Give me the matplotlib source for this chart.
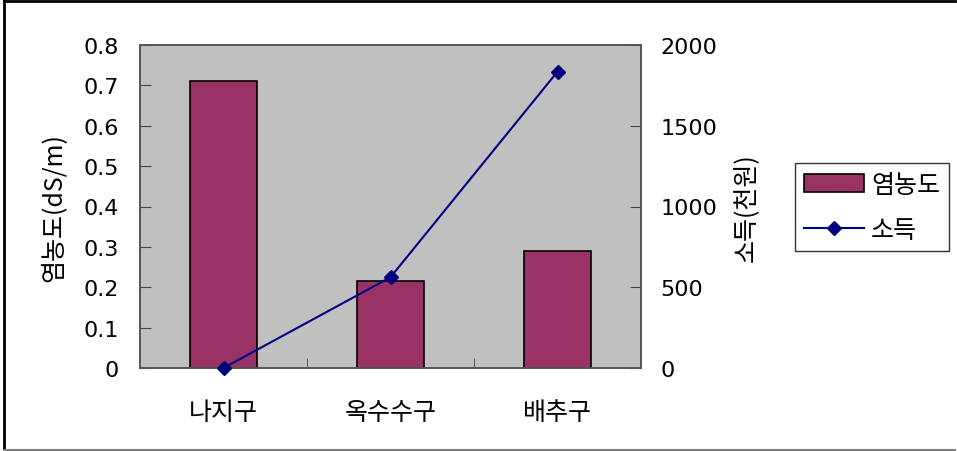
import matplotlib
matplotlib.use("Agg")
import matplotlib.pyplot as plt
from matplotlib.patches import Rectangle
from matplotlib.lines import Line2D
import numpy as np

categories = ["나지구", "옥수수구", "배추구"]
salinity = [0.71, 0.215, 0.29]
income = [0, 562, 1835]
left_ticks = [0, 0.1, 0.2, 0.3, 0.4, 0.5, 0.6, 0.7, 0.8]
right_ticks = [0, 500, 1000, 1500, 2000]

plt.rcParams['font.family'] = ['DejaVu Sans', 'Noto Sans CJK KR']
kfont = ['Noto Sans CJK KR', 'DejaVu Sans']
NFS = 16
KFS = 18

fig = plt.figure(figsize=(9.57, 4.52), dpi=100)
ax = fig.add_axes([140/957, 1-369/452, 501/957, 323/452])
ax.set_facecolor('#C0C0C0')
x = np.arange(len(categories))
ax.bar(x, salinity, width=0.4, color='#993366', edgecolor='black', linewidth=1.2, zorder=2)
ax.set_xlim(-0.5, 2.5)
ax.set_ylim(0, 0.8)
ax.set_yticks(left_ticks)
ax.set_yticklabels([f"{v:g}" for v in left_ticks], fontsize=NFS)
ax.set_xticks(x)
ax.set_xticklabels(categories, fontsize=KFS, family=kfont)
ax.tick_params(axis='x', length=0, pad=22)
ax.set_xticks([0.5, 1.5], minor=True)
ax.tick_params(axis='x', which='minor', direction='in', length=7, color='#444444')
ax.tick_params(axis='y', direction='in', length=8, color='#444444', pad=15)
for s in ax.spines.values():
    s.set_color('#555555')
    s.set_linewidth(1.2)
ax.set_ylabel("염농도(dS/m)", fontsize=KFS, family=kfont, labelpad=12)

ax2 = ax.twinx()
ax2.plot(x, income, color='#000080', marker='D', markersize=7, linewidth=1.5, zorder=3, clip_on=False)
ax2.set_ylim(0, 2000)
ax2.set_yticks(right_ticks)
ax2.set_yticklabels([str(v) for v in right_ticks], fontsize=NFS)
ax2.tick_params(axis='y', direction='in', length=8, color='#444444', pad=14)
for s in ax2.spines.values():
    s.set_color('#555555')
    s.set_linewidth(1.2)
ax2.set_ylabel("소득(천원)", fontsize=KFS, family=kfont, rotation=90, labelpad=11)

handles = [Rectangle((0, 0), 1, 1, facecolor='#993366', edgecolor='black', linewidth=1.2),
           Line2D([], [], color='#000080', marker='D', markersize=7, linewidth=1.5)]
leg = fig.legend(handles, ["염농도", "소득"], loc='upper left',
                 bbox_to_anchor=(795/957, 1-164/452), prop={'family': kfont, 'size': KFS},
                 frameon=True, fancybox=False, edgecolor='black', handlelength=2.4,
                 handletextpad=0.3, borderpad=0.35, labelspacing=0.75, borderaxespad=0)
leg.get_frame().set_linewidth(1.0)

# outer frame
fig.add_artist(Line2D([4/957, 4/957], [1/452, 1-2/452], transform=fig.transFigure, color='black', linewidth=2))
fig.add_artist(Line2D([4/957, 955/957], [1-2/452, 1-2/452], transform=fig.transFigure, color='black', linewidth=2))
fig.add_artist(Line2D([4/957, 955/957], [1.5/452, 1.5/452], transform=fig.transFigure, color='#808080', linewidth=1.5))

fig.savefig("out.png", dpi=100)
